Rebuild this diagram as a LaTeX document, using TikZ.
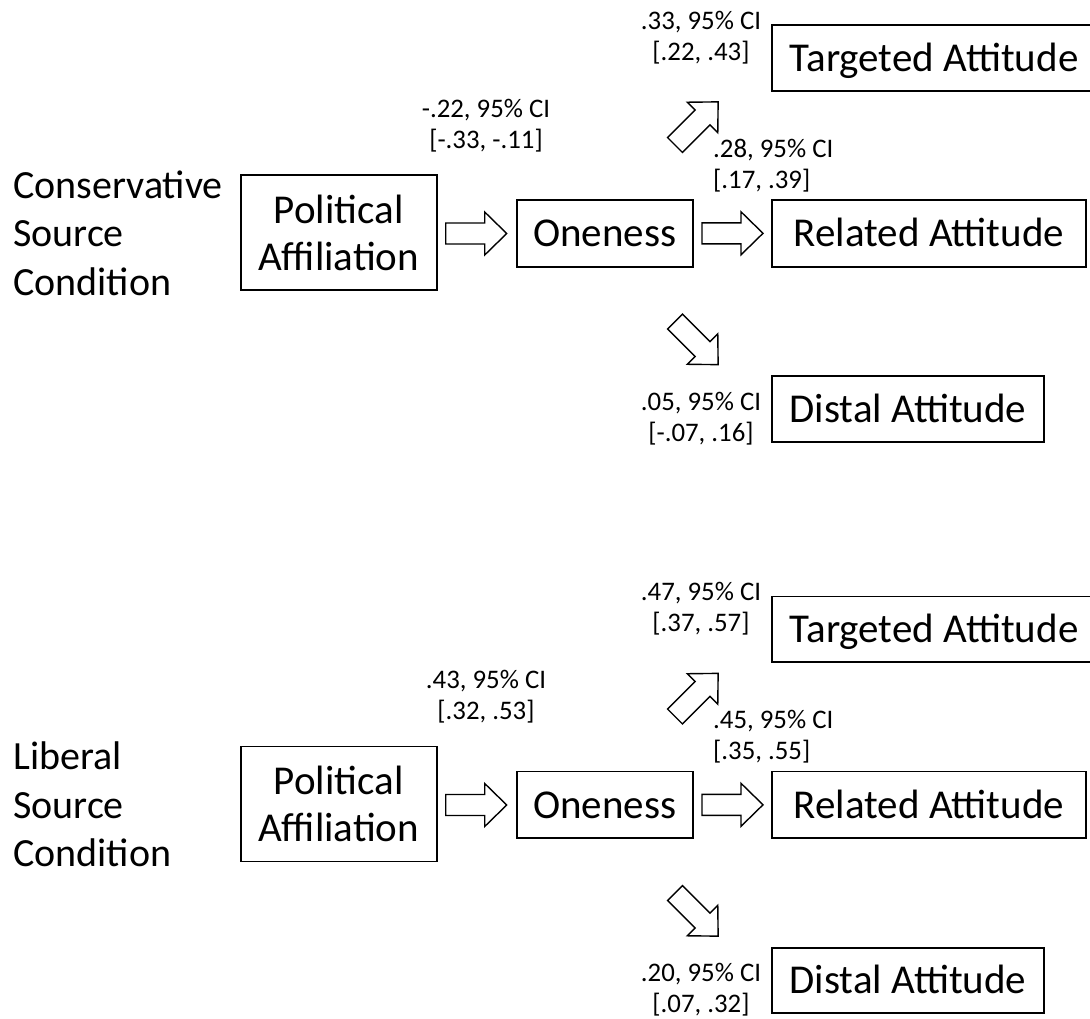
\documentclass[tikz,border=0pt]{standalone}
\usepackage{fontspec}
\setmainfont{Carlito}
\newcommand{\blockarr}[3]{\draw[blk,shift={(#1,#2)},rotate=#3] (0,-10.5) -- (39,-10.5) -- (39,-21.5) -- (61,0) -- (39,21.5) -- (39,10.5) -- (0,10.5) -- cycle;}
\begin{document}
\begin{tikzpicture}[x=1pt,y=-1pt,
  box/.style={draw, line width=1.8pt, inner sep=0pt, font=\fontsize{41}{48}\selectfont, text height=26.5pt, text depth=0pt},
  mbox/.style={draw, line width=1.8pt, inner sep=0pt, align=center, font=\fontsize{41}{47}\selectfont},
  cond/.style={inner sep=0pt, align=left, anchor=base west, font=\fontsize{40}{48.5}\selectfont},
  lbl/.style={inner sep=0pt, align=center, anchor=base, font=\fontsize{26.8}{31}\selectfont},
  lbll/.style={inner sep=0pt, align=left, anchor=base west, font=\fontsize{26.8}{31}\selectfont},
  blk/.style={draw, line width=1.4pt, line join=miter, fill=white}]
\useasboundingbox (0,0) rectangle (1090,1018);
\clip (0,0) rectangle (1090,1018);
% ---------- top panel ----------
\node[cond] (c1) at (13,295) {Conservative\\Source\\Condition};
\node[mbox, minimum width=196pt, minimum height=115pt] (pa1) at (338.7,232.5) {Political\\Affiliation};
\node[box, minimum width=176pt, minimum height=66.7pt] (on1) at (604.7,233.3) {Oneness};
\node[box, minimum width=314pt, minimum height=66.7pt] (rel1) at (929,233.3) {Related Attitude};
\node[box, minimum width=324pt, minimum height=65.7pt] (tar1) at (934,57.8) {Targeted Attitude};
\node[box, minimum width=272pt, minimum height=65.7pt] (dis1) at (908,409) {Distal Attitude};
\blockarr{445.7}{233.5}{0}
\blockarr{702}{233.3}{0}
\blockarr{675}{145}{45}
\blockarr{675}{321.5}{-45}
\node[lbl] (a1) at (486,148) {-.22, 95\% CI\\{}[-.33, -.11]};
\node[lbl] (b1) at (701,60) {.33, 95\% CI\\{}[.22, .43]};
\node[lbll] (cc1) at (713,188) {.28, 95\% CI\\{}[.17, .39]};
\node[lbl] (d1) at (701,441) {.05, 95\% CI\\{}[-.07, .16]};
% ---------- bottom panel ----------
\node[cond] (c2) at (13,866.5) {Liberal\\Source\\Condition};
\node[mbox, minimum width=196pt, minimum height=115pt] (pa2) at (338.7,804) {Political\\Affiliation};
\node[box, minimum width=176pt, minimum height=66.7pt] (on2) at (604.7,804.8) {Oneness};
\node[box, minimum width=314pt, minimum height=66.7pt] (rel2) at (929,804.8) {Related Attitude};
\node[box, minimum width=324pt, minimum height=65.7pt] (tar2) at (934,629.3) {Targeted Attitude};
\node[box, minimum width=272pt, minimum height=65.7pt] (dis2) at (908,980.5) {Distal Attitude};
\blockarr{445.7}{805}{0}
\blockarr{702}{804.8}{0}
\blockarr{675}{716.5}{45}
\blockarr{675}{893}{-45}
\node[lbl] (a2) at (486,719.5) {.43, 95\% CI\\{}[.32, .53]};
\node[lbl] (b2) at (701,631.5) {.47, 95\% CI\\{}[.37, .57]};
\node[lbll] (cc2) at (713,759.5) {.45, 95\% CI\\{}[.35, .55]};
\node[lbl] (d2) at (701,1012.5) {.20, 95\% CI\\{}[.07, .32]};
\end{tikzpicture}
\end{document}
